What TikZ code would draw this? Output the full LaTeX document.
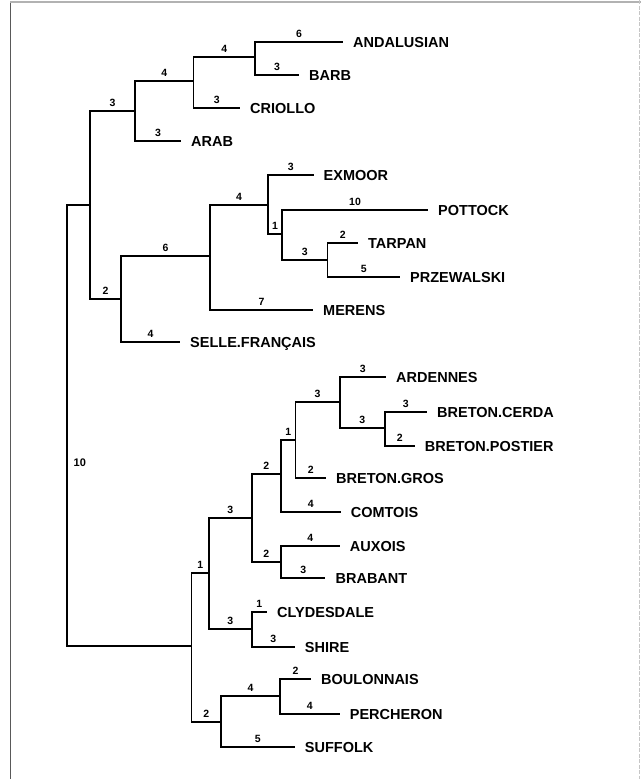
\documentclass[tikz,border=0pt]{standalone}
\usepackage{fontspec}
\setmainfont{Liberation Sans}
\begin{document}
\begin{tikzpicture}[x=1pt,y=-1pt,
  br/.style={line width=1.7pt},
  leaf/.style={anchor=west,inner xsep=10pt,inner ysep=0pt,text height=10pt,
    text depth=0pt,font=\fontsize{14.5}{16}\selectfont\bfseries},
  len/.style={pos=.75,above=3.5pt,inner sep=0pt,font=\fontsize{10.5}{11}\selectfont\bfseries}]
  \useasboundingbox (0,0) rectangle (641,779);
  % frame of the scan
  \draw[gray!70!black,line width=1pt] (10.5,2) -- (10.5,779);
  \draw[gray!60,line width=1.2pt] (10,2) -- (641,2);
  \draw[gray!45,line width=.8pt,dash pattern=on 4pt off 1.5pt] (639,0) -- (639,779);

  % inner nodes
  \coordinate (root) at (67,425);
  \coordinate (a) at (90,205);
  \coordinate (b) at (135,111);
  \coordinate (c) at (193.6,81);
  \coordinate (d) at (255,57);
  \coordinate (e) at (121,299);
  \coordinate (f) at (210,256);
  \coordinate (g) at (268,205);
  \coordinate (h) at (282,234);
  \coordinate (i) at (327.5,260);
  \coordinate (j) at (191.6,646);
  \coordinate (k) at (208.8,573);
  \coordinate (l) at (251.7,518);
  \coordinate (m) at (251.7,629);
  \coordinate (n) at (281,474);
  \coordinate (o) at (281,562);
  \coordinate (p) at (295.5,440);
  \coordinate (q) at (339.7,402);
  \coordinate (r) at (384.8,428);
  \coordinate (s) at (221,722);
  \coordinate (t) at (280,696);

  % breeds
  \node[leaf] (andalusian) at (343,42) {ANDALUSIAN};
  \node[leaf] (barb) at (299,75) {BARB};
  \node[leaf] (criollo) at (240,108) {CRIOLLO};
  \node[leaf] (arab) at (181,141) {ARAB};
  \node[leaf] (exmoor) at (313.5,175) {EXMOOR};
  \node[leaf] (pottock) at (428,210) {POTTOCK};
  \node[leaf] (tarpan) at (358,243) {TARPAN};
  \node[leaf] (przewalski) at (400,277) {PRZEWALSKI};
  \node[leaf] (merens) at (313,310) {MERENS};
  \node[leaf] (selle) at (180,342) {SELLE.FRANÇAIS};
  \node[leaf] (ardennes) at (386,377) {ARDENNES};
  \node[leaf] (cerda) at (427,412) {BRETON.CERDA};
  \node[leaf] (postier) at (414.7,446) {BRETON.POSTIER};
  \node[leaf] (gros) at (326,478) {BRETON.GROS};
  \node[leaf] (comtois) at (340.6,512) {COMTOIS};
  \node[leaf] (auxois) at (339.7,546) {AUXOIS};
  \node[leaf] (brabant) at (325.4,578) {BRABANT};
  \node[leaf] (clydesdale) at (267,612) {CLYDESDALE};
  \node[leaf] (shire) at (294.7,647) {SHIRE};
  \node[leaf] (boulonnais) at (311,679) {BOULONNAIS};
  \node[leaf] (percheron) at (339.7,714) {PERCHERON};
  \node[leaf] (suffolk) at (294.7,747) {SUFFOLK};

  % branches
  \draw[br] (root) |- (a);
  \draw[br] (root) |- (j);
  \node[inner sep=0pt,anchor=west,font=\fontsize{11}{12}\selectfont\bfseries] (rootlen) at (73.5,463) {10};

  \draw[br] (a) |- node[len] {3} (b);
  \draw[br] (a) |- node[len] {2} (e);
  \draw[br] (b) |- node[len] {4} (c);
  \draw[br] (b) |- node[len] {3} (arab.west);
  \draw[br] (c) |- node[len] {4} (d);
  \draw[br] (c) |- node[len] {3} (criollo.west);
  \draw[br] (d) |- node[len] {6} (andalusian.west);
  \draw[br] (d) |- node[len] {3} (barb.west);
  \draw[br] (e) |- node[len] {6} (f);
  \draw[br] (e) |- node[len] {4} (selle.west);
  \draw[br] (f) |- node[len] {4} (g);
  \draw[br] (f) |- node[len] {7} (merens.west);
  \draw[br] (g) |- node[len] {3} (exmoor.west);
  \draw[br] (g) |- node[len] {1} (h);
  \draw[br] (h) |- node[len] {10} (pottock.west);
  \draw[br] (h) |- node[len] {3} (i);
  \draw[br] (i) |- node[len] {2} (tarpan.west);
  \draw[br] (i) |- node[len] {5} (przewalski.west);

  \draw[br] (j) |- node[len] {1} (k);
  \draw[br] (j) |- node[len] {2} (s);
  \draw[br] (k) |- node[len] {3} (l);
  \draw[br] (k) |- node[len] {3} (m);
  \draw[br] (l) |- node[len] {2} (n);
  \draw[br] (l) |- node[len] {2} (o);
  \draw[br] (n) |- node[len] {1} (p);
  \draw[br] (n) |- node[len] {4} (comtois.west);
  \draw[br] (p) |- node[len] {3} (q);
  \draw[br] (p) |- node[len] {2} (gros.west);
  \draw[br] (q) |- node[len] {3} (ardennes.west);
  \draw[br] (q) |- node[len] {3} (r);
  \draw[br] (r) |- node[len] {3} (cerda.west);
  \draw[br] (r) |- node[len] {2} (postier.west);
  \draw[br] (o) |- node[len] {4} (auxois.west);
  \draw[br] (o) |- node[len] {3} (brabant.west);
  \draw[br] (m) |- node[len] {1} (clydesdale.west);
  \draw[br] (m) |- node[len] {3} (shire.west);
  \draw[br] (s) |- node[len] {4} (t);
  \draw[br] (s) |- node[len] {5} (suffolk.west);
  \draw[br] (t) |- node[len] {2} (boulonnais.west);
  \draw[br] (t) |- node[len] {4} (percheron.west);
\end{tikzpicture}
\end{document}
